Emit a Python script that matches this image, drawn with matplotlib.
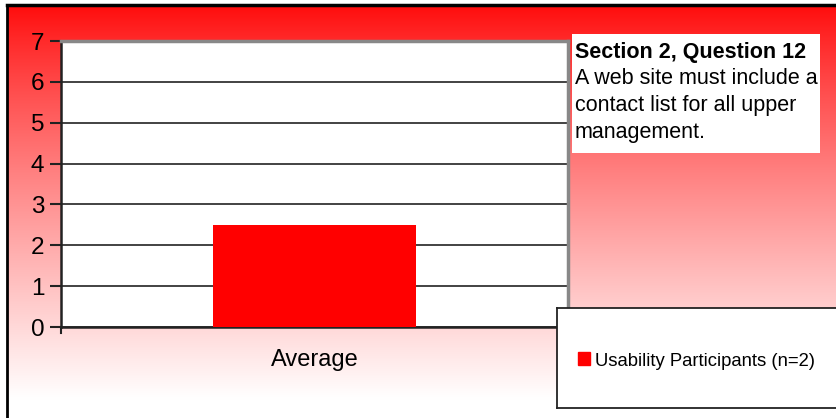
import numpy as np
import matplotlib
matplotlib.use("Agg")
import matplotlib.pyplot as plt
import matplotlib.patches as patches

plt.rcParams['font.family'] = ['Liberation Sans', 'DejaVu Sans']

categories = ['Average']
values = [2.5]
series_name = 'Usability Participants (n=2)'
yticks = [0, 1, 2, 3, 4, 5, 6, 7]
title_bold = 'Section 2, Question 12'
question = 'A web site must include a\ncontact list for all upper\nmanagement.'

W, H = 836, 418
fig = plt.figure(figsize=(W / 100, H / 100), dpi=100)

# background gradient (red at top fading to white)
bg = fig.add_axes([7 / W, 0, 1 - 7 / W, 1 - 5 / H], zorder=0)
t = np.linspace(0, 1, 400) ** 0.85
t = np.clip(t * 1.04, 0, 1)
grad = np.ones((400, 1, 3))
grad[:, 0, 1] = 0.04 + 0.96 * t
grad[:, 0, 2] = 0.04 + 0.96 * t
bg.imshow(grad, aspect='auto', extent=[0, 1, 0, 1], origin='upper')
bg.set_xticks([])
bg.set_yticks([])
for s in ['right', 'bottom']:
    bg.spines[s].set_visible(False)
bg.spines['top'].set_linewidth(2.5)
bg.spines['left'].set_linewidth(2)

# plot area
x0, x1, y0, y1 = 61, 568, 41, 327
ax = fig.add_axes([x0 / W, 1 - y1 / H, (x1 - x0) / W, (y1 - y0) / H], zorder=1)
ax.set_facecolor('white')
x = np.arange(len(categories))
ax.bar(x, values, width=0.4, color='#ff0000', zorder=3, label=series_name)
ax.set_xlim(-0.5, 0.5)
ax.set_ylim(0, 7)
ax.set_yticks(yticks)
ax.set_yticklabels([str(v) for v in yticks], fontsize=17.5)
ax.set_xticks(x)
ax.set_xticklabels(categories, fontsize=17)
ax.tick_params(axis='x', length=0, pad=16)
ax.tick_params(axis='y', length=8, width=1.5, pad=4, color='#222222')
ax.yaxis.grid(True, color='#222222', linewidth=1.2, zorder=0)
ax.set_axisbelow(True)
ax.spines['left'].set_color('#222222')
ax.spines['left'].set_linewidth(1.8)
ax.spines['bottom'].set_color('#222222')
ax.spines['bottom'].set_linewidth(1.8)
ax.spines['top'].set_color('#888888')
ax.spines['top'].set_linewidth(2.5)
ax.spines['right'].set_color('#888888')
ax.spines['right'].set_linewidth(2.5)
ax.plot([0, 0], [0, -0.15], color='#222222', lw=1.5, clip_on=False,
        transform=ax.get_yaxis_transform())

# question text box
tb = fig.add_axes([572 / W, 1 - 153 / H, (820 - 572) / W, (153 - 34) / H], zorder=2)
tb.set_facecolor('white')
tb.set_xticks([])
tb.set_yticks([])
for s in tb.spines.values():
    s.set_visible(False)
fig.text(575 / W, 1 - 58 / H, title_bold, fontsize=15.5, fontweight='bold',
         va='baseline', ha='left', zorder=5)
fig.text(575 / W, 1 - 68 / H, question, fontsize=15.5, va='top', ha='left',
         linespacing=1.38, zorder=5)

# legend box
lg = fig.add_axes([557 / W, 1 - 408 / H, (840 - 557) / W, (408 - 308) / H], zorder=3)
lg.set_facecolor('white')
lg.set_xticks([])
lg.set_yticks([])
for s in lg.spines.values():
    s.set_color('#222222')
    s.set_linewidth(1.3)
lg.add_patch(patches.Rectangle((21 / 283, 0.43), 12 / 283, 0.13, color='#ff0000',
                               transform=lg.transAxes))
lg.text(38 / 283, 0.47, series_name, fontsize=13.3, va='center', ha='left',
        transform=lg.transAxes)
lg.set_xlim(0, 1)
lg.set_ylim(0, 1)

fig.savefig('out.png', dpi=100)
